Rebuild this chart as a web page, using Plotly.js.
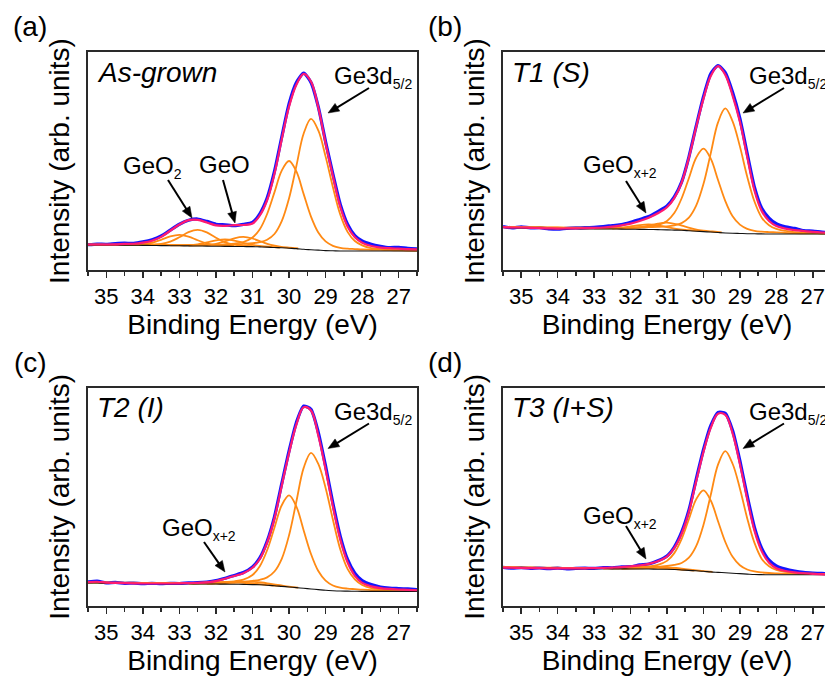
<!DOCTYPE html>
<html>
<head>
<meta charset="utf-8">
<script src="https://cdn.plot.ly/plotly-3.0.1.min.js"></script>
<style>
html,body{margin:0;padding:0;background:#fff;overflow:hidden;width:825px;height:681px;}
#chart{width:833px;height:681px;}
</style>
</head>
<body>
<div id="chart"></div>
<script>
// Binding energy grid (eV)
const energy = [35.5, 35.25, 35.0, 34.75, 34.5, 34.25, 34.0, 33.75, 33.5, 33.25, 33.0, 32.75, 32.5, 32.25, 32.0, 31.75, 31.5, 31.25, 31.0, 30.8, 30.6, 30.4, 30.2, 30.0, 29.8, 29.6, 29.4, 29.2, 29.0, 28.8, 28.6, 28.4, 28.2, 28.0, 27.75, 27.5, 27.25, 27.0, 26.75, 26.5];
const tickValues = [35, 34, 33, 32, 31, 30, 29, 28, 27];
const tickLabels = ["35", "34", "33", "32", "31", "30", "29", "28", "27"];

// (a) As-grown
const aRaw = [11.6, 11.9, 11.8, 12.1, 12.3, 12.2, 12.9, 13.9, 15.6, 18.3, 21.0, 22.8, 23.4, 22.3, 21.0, 20.7, 20.3, 20.9, 21.8, 25.8, 33.0, 45.2, 61.0, 76.3, 86.0, 90.3, 86.0, 74.8, 58.8, 44.0, 30.2, 21.0, 15.8, 13.3, 11.8, 10.9, 10.3, 10.4, 9.9, 9.7];
const aFit = [11.7, 11.7, 11.7, 11.75, 11.95, 12.05, 12.55, 13.45, 15.2, 18.0, 20.85, 22.9, 23.0, 21.8, 20.45, 20.25, 20.55, 20.65, 21.3, 25.0, 32.0, 44.0, 60.0, 75.0, 85.0, 90.0, 86.5, 74.5, 58.0, 43.0, 29.0, 20.0, 15.0, 12.5, 11.0, 10.3, 10.0, 9.8, 9.6, 9.5];
const aBg = [11.5, 11.5, 11.45, 11.45, 11.4, 11.35, 11.3, 11.25, 11.2, 11.15, 11.1, 11.05, 11.0, 10.95, 10.9, 10.85, 10.8, 10.75, 10.7, 10.6, 10.5, 10.3, 10.2, 10.0, 9.8, 9.5, 9.3, 9.1, 8.9, 8.8, 8.7, 8.7, 8.7, 8.7, 8.7, 8.7, 8.7, 8.7, 8.7, 8.7];
const aGe52 = [11.6, 11.6, 11.6, 11.65, 11.6, 11.6, 11.55, 11.55, 11.5, 11.5, 11.45, 11.45, 11.45, 11.5, 11.5, 11.6, 11.8, 12.0, 12.3, 12.8, 13.9, 16.5, 22.4, 32.9, 47.7, 62.6, 69.3, 64.0, 52.0, 38.0, 25.5, 17.5, 13.3, 11.3, 10.0, 9.6, 9.3, 9.1, 9.0, 8.9];
const aGe32 = [11.6, 11.6, 11.55, 11.55, 11.55, 11.5, 11.5, 11.45, 11.45, 11.45, 11.4, 11.45, 11.45, 11.5, 11.6, 11.8, 12.1, 12.85, 14.9, 18.7, 25.7, 35.6, 45.6, 50.0, 45.2, 34.8, 24.5, 17.2, 13.1, 11.1, 10.2, 9.8, 9.6, 9.4, 9.3, 9.2, 9.1, 9.0, 8.95, 8.9];
const aOxAEnergy = [34.5, 34.25, 34.0, 33.75, 33.5, 33.25, 33.0, 32.75, 32.5, 32.25, 32.0, 31.75, 31.5];
const aOxA = [11.6, 11.65, 11.85, 12.5, 13.85, 15.4, 16.1, 15.3, 13.65, 12.2, 11.45, 11.15, 11.0];
const aOxBEnergy = [34.0, 33.75, 33.5, 33.25, 33.0, 32.75, 32.5, 32.25, 32.0, 31.75, 31.5, 31.25, 31.0];
const aOxB = [11.55, 11.7, 12.0, 13.0, 15.0, 17.35, 18.4, 17.25, 14.8, 12.7, 11.6, 11.2, 10.95];
const aOxDEnergy = [33.25, 33.0, 32.75, 32.5, 32.25, 32.0, 31.75, 31.5, 31.25, 31.0, 30.75, 30.5, 30.25];
const aOxD = [11.25, 11.3, 11.4, 11.8, 12.65, 13.6, 14.05, 13.5, 12.45, 11.5, 10.95, 10.6, 10.3];
const aOxCEnergy = [32.75, 32.5, 32.25, 32.0, 31.75, 31.5, 31.25, 31.0, 30.75, 30.5, 30.25, 30.0, 29.75];
const aOxC = [11.2, 11.25, 11.45, 12.0, 13.2, 14.55, 15.15, 14.45, 12.95, 11.5, 10.7, 10.25, 9.9];

// (b) T1 (S)
const bRaw = [19.9, 19.3, 19.8, 19.3, 19.4, 18.9, 18.7, 19.1, 19.3, 19.4, 19.6, 19.9, 20.4, 20.8, 21.9, 23.2, 24.5, 26.8, 29.4, 33.5, 40.3, 51.8, 66.0, 79.5, 90.0, 93.8, 90.5, 81.5, 69.5, 53.5, 38.0, 28.3, 23.8, 21.2, 19.8, 19.1, 18.1, 17.9, 17.4, 17.1];
const bFit = [19.7, 19.5, 19.5, 19.35, 19.2, 19.1, 19.0, 19.05, 19.1, 19.2, 19.3, 19.5, 19.9, 20.5, 21.3, 22.5, 24.0, 26.0, 28.8, 33.0, 40.0, 51.5, 65.5, 78.5, 89.0, 93.5, 89.5, 80.0, 68.0, 52.0, 36.5, 27.0, 22.5, 20.2, 19.0, 18.3, 17.9, 17.5, 17.2, 17.0];
const bBg = [19.5, 19.4, 19.3, 19.2, 19.1, 19.0, 18.95, 18.9, 18.9, 18.85, 18.85, 18.8, 18.8, 18.75, 18.7, 18.65, 18.6, 18.5, 18.4, 18.3, 18.2, 18.0, 17.8, 17.6, 17.4, 17.2, 17.0, 16.85, 16.75, 16.65, 16.6, 16.55, 16.5, 16.5, 16.5, 16.5, 16.5, 16.5, 16.5, 16.5];
const bGe52 = [19.8, 19.75, 19.7, 19.65, 19.6, 19.55, 19.5, 19.45, 19.45, 19.4, 19.35, 19.35, 19.35, 19.35, 19.4, 19.5, 19.65, 19.75, 20.0, 20.5, 21.5, 24.0, 29.5, 39.4, 53.5, 67.7, 74.1, 68.2, 56.7, 42.9, 31.4, 24.0, 20.55, 18.85, 17.9, 17.4, 17.1, 16.95, 16.85, 16.8];
const bGe32 = [19.65, 19.6, 19.55, 19.5, 19.5, 19.45, 19.4, 19.35, 19.35, 19.3, 19.3, 19.3, 19.3, 19.4, 19.5, 19.65, 19.9, 20.6, 22.5, 26.1, 32.8, 42.1, 51.5, 55.7, 51.1, 41.3, 31.6, 24.6, 20.8, 18.9, 18.0, 17.6, 17.4, 17.25, 17.05, 16.9, 16.85, 16.8, 16.75, 16.7];
const bOxCEnergy = [32.5, 32.25, 32.0, 31.75, 31.5, 31.25, 31.0, 30.75, 30.5, 30.25, 30.0, 29.75, 29.5];
const bOxC = [19.0, 19.05, 19.15, 19.55, 20.4, 21.3, 21.7, 21.05, 19.9, 18.8, 18.05, 17.65, 17.3];
const bOxDEnergy = [33.0, 32.75, 32.5, 32.25, 32.0, 31.75, 31.5, 31.25, 31.0, 30.75, 30.5, 30.25, 30.0];
const bOxD = [19.1, 19.1, 19.15, 19.4, 19.95, 20.6, 20.9, 20.45, 19.65, 18.9, 18.45, 18.15, 17.8];

// (c) T2 (I)
const cRaw = [11.0, 11.4, 10.6, 10.8, 10.4, 10.5, 10.2, 10.4, 10.2, 10.4, 10.3, 10.6, 10.7, 11.0, 11.6, 12.7, 14.0, 15.3, 17.9, 22.0, 29.6, 40.8, 56.0, 71.0, 84.0, 91.5, 90.0, 79.5, 64.0, 47.0, 32.0, 21.3, 15.0, 11.6, 9.8, 8.7, 8.2, 8.0, 7.8, 7.5];
const cFit = [10.9, 11.1, 10.7, 10.6, 10.5, 10.4, 10.3, 10.3, 10.3, 10.3, 10.4, 10.5, 10.6, 10.85, 11.4, 12.5, 13.7, 15.0, 17.5, 21.5, 29.0, 40.0, 55.0, 70.0, 83.0, 91.0, 89.5, 78.0, 62.5, 45.5, 30.5, 20.0, 13.8, 10.6, 9.0, 8.2, 7.8, 7.55, 7.4, 7.2];
const cBg = [10.5, 10.5, 10.45, 10.4, 10.4, 10.35, 10.3, 10.3, 10.25, 10.2, 10.2, 10.15, 10.1, 10.1, 10.05, 10.0, 9.95, 9.9, 9.8, 9.7, 9.5, 9.3, 9.0, 8.7, 8.4, 8.1, 7.8, 7.5, 7.2, 7.0, 6.85, 6.8, 6.75, 6.7, 6.7, 6.7, 6.7, 6.7, 6.7, 6.7];
const cGe52 = [10.8, 10.8, 10.75, 10.7, 10.7, 10.65, 10.6, 10.6, 10.6, 10.55, 10.6, 10.6, 10.6, 10.65, 10.75, 10.8, 11.0, 11.15, 11.5, 12.0, 13.1, 15.8, 21.6, 32.4, 47.8, 63.2, 70.1, 65.0, 54.0, 39.5, 26.0, 17.0, 12.2, 9.6, 8.2, 7.7, 7.4, 7.2, 7.1, 7.0];
const cGe32 = [10.7, 10.7, 10.65, 10.6, 10.6, 10.55, 10.5, 10.5, 10.5, 10.5, 10.55, 10.55, 10.55, 10.7, 10.8, 11.0, 11.3, 12.1, 14.2, 18.2, 25.5, 35.8, 46.1, 50.6, 45.5, 34.6, 23.8, 16.0, 11.6, 9.4, 8.4, 7.95, 7.7, 7.45, 7.3, 7.15, 7.1, 7.05, 7.0, 6.95];
const cOxCEnergy = [32.25, 32.0, 31.75, 31.5, 31.25, 31.0, 30.75, 30.5, 30.25, 30.0, 29.75];
const cOxC = [10.2, 10.2, 10.35, 10.65, 11.0, 11.1, 10.75, 10.1, 9.5, 8.85, 8.4];
const cOxDEnergy = [32.75, 32.5, 32.25, 32.0, 31.75, 31.5, 31.25, 31.0, 30.75, 30.5, 30.25];
const cOxD = [10.2, 10.2, 10.3, 10.5, 10.75, 10.85, 10.65, 10.25, 9.9, 9.5, 9.2];

// (d) T3 (I+S)
const dRaw = [17.7, 17.3, 17.6, 17.2, 17.4, 17.1, 17.3, 17.0, 17.2, 17.3, 17.2, 17.6, 17.5, 17.9, 18.0, 18.8, 19.2, 20.7, 22.9, 27.0, 33.8, 43.8, 58.0, 71.5, 82.5, 88.6, 88.2, 80.3, 66.5, 50.5, 36.0, 26.4, 21.0, 18.4, 16.9, 16.0, 15.4, 15.1, 14.9, 14.7];
const dFit = [17.6, 17.5, 17.4, 17.35, 17.3, 17.25, 17.2, 17.2, 17.2, 17.25, 17.35, 17.45, 17.6, 17.8, 18.1, 18.6, 19.3, 20.5, 22.6, 26.5, 33.0, 43.0, 57.0, 70.5, 81.5, 88.0, 87.5, 79.0, 65.0, 49.0, 34.5, 25.0, 19.8, 17.3, 16.0, 15.4, 15.0, 14.7, 14.5, 14.4];
const dBg = [17.6, 17.5, 17.4, 17.35, 17.3, 17.25, 17.2, 17.15, 17.1, 17.1, 17.05, 17.05, 17.0, 17.0, 16.95, 16.95, 16.9, 16.85, 16.8, 16.7, 16.5, 16.3, 16.1, 15.9, 15.6, 15.4, 15.2, 15.0, 14.8, 14.6, 14.4, 14.35, 14.3, 14.3, 14.3, 14.3, 14.3, 14.3, 14.3, 14.3];
const dGe52 = [17.9, 17.8, 17.7, 17.65, 17.6, 17.55, 17.5, 17.45, 17.4, 17.4, 17.4, 17.4, 17.45, 17.5, 17.55, 17.65, 17.85, 17.95, 18.3, 18.8, 19.7, 22.1, 27.4, 37.1, 50.8, 64.7, 70.9, 65.1, 53.8, 40.2, 28.9, 21.55, 18.2, 16.5, 15.6, 15.2, 14.9, 14.75, 14.65, 14.6];
const dGe32 = [17.75, 17.65, 17.55, 17.5, 17.45, 17.4, 17.35, 17.35, 17.3, 17.35, 17.35, 17.4, 17.45, 17.5, 17.6, 17.85, 18.1, 18.8, 20.65, 24.2, 30.6, 39.7, 48.8, 52.9, 48.3, 38.8, 29.3, 22.5, 18.65, 16.7, 15.8, 15.35, 15.1, 14.95, 14.8, 14.7, 14.65, 14.6, 14.55, 14.5];
const dOxCEnergy = [32.25, 32.0, 31.75, 31.5, 31.25, 31.0, 30.75, 30.5, 30.25, 30.0, 29.75];
const dOxC = [17.05, 17.1, 17.2, 17.4, 17.6, 17.7, 17.4, 16.9, 16.45, 16.0, 15.6];
const dOxDEnergy = [32.75, 32.5, 32.25, 32.0, 31.75, 31.5, 31.25, 31.0, 30.75, 30.5, 30.25];
const dOxD = [17.1, 17.1, 17.2, 17.3, 17.55, 17.6, 17.45, 17.15, 16.85, 16.5, 16.25];

const sampleNames = ["As-grown", "T1 (S)", "T2 (I)", "T3 (I+S)"];
const panelLetters = ["(a)", "(b)", "(c)", "(d)"];

const W = 833, H = 681;
const FONT = 'Arial, "Liberation Sans", sans-serif';
const BLUE = '#1414ff', PINK = '#ff1a70', ORANGE = '#ff8a14';

const panels = [
  {raw: aRaw, fit: aFit, bg: aBg, comps: [[energy, aGe52], [energy, aGe32], [aOxAEnergy, aOxA], [aOxBEnergy, aOxB], [aOxDEnergy, aOxD], [aOxCEnergy, aOxC]]},
  {raw: bRaw, fit: bFit, bg: bBg, comps: [[energy, bGe52], [energy, bGe32], [bOxCEnergy, bOxC], [bOxDEnergy, bOxD]]},
  {raw: cRaw, fit: cFit, bg: cBg, comps: [[energy, cGe52], [energy, cGe32], [cOxCEnergy, cOxC], [cOxDEnergy, cOxD]]},
  {raw: dRaw, fit: dFit, bg: dBg, comps: [[energy, dGe52], [energy, dGe32], [dOxCEnergy, dOxC], [dOxDEnergy, dOxD]]}
];

const traces = [];
panels.forEach((p, i) => {
  const xa = i === 0 ? 'x' : 'x' + (i + 1);
  const ya = i === 0 ? 'y' : 'y' + (i + 1);
  traces.push({x: energy, y: p.raw, xaxis: xa, yaxis: ya, mode: 'lines', line: {color: BLUE, width: 3.2, shape: 'spline', smoothing: 0.6}, hoverinfo: 'skip'});
  p.comps.forEach(c => {
    traces.push({x: c[0], y: c[1], xaxis: xa, yaxis: ya, mode: 'lines', line: {color: ORANGE, width: 1.8, shape: 'spline'}, hoverinfo: 'skip'});
  });
  traces.push({x: energy, y: p.bg, xaxis: xa, yaxis: ya, mode: 'lines', line: {color: '#111', width: 1.1, shape: 'spline'}, hoverinfo: 'skip'});
  traces.push({x: energy, y: p.fit, xaxis: xa, yaxis: ya, mode: 'lines', line: {color: PINK, width: 2.2, shape: 'spline'}, hoverinfo: 'skip'});
});

// panel frames in pixels
const frames = [
  {l: 88, r: 417, t: 52, b: 270},
  {l: 503, r: 831, t: 52, b: 270},
  {l: 88, r: 417, t: 387.5, b: 606},
  {l: 503, r: 831, t: 387.5, b: 606}
];

function xAxis(f, yname) {
  return {
    domain: [f.l / W, f.r / W], anchor: yname, range: [35.5, 26.5], automargin: false,
    showline: true, mirror: true, linecolor: '#2a2a2a', linewidth: 1.7,
    showgrid: false, zeroline: false,
    tickmode: 'array', tickvals: tickValues, ticktext: tickLabels,
    ticks: 'outside', ticklen: 6, tickwidth: 1.5, tickcolor: '#2a2a2a',
    minor: {dtick: 0.5, tick0: 0, ticks: 'outside', ticklen: 4, tickwidth: 1.5, tickcolor: '#2a2a2a'},
    tickfont: {family: FONT, size: 22, color: '#000'},
    title: {text: 'Binding Energy (eV)', font: {family: FONT, size: 28, color: '#000'}, standoff: 3}
  };
}
function yAxis(f, xname) {
  return {
    domain: [(H - f.b) / H, (H - f.t) / H], anchor: xname, range: [0, 100], automargin: false,
    showline: true, mirror: true, linecolor: '#2a2a2a', linewidth: 1.7,
    showgrid: false, zeroline: false, showticklabels: false, ticks: '',
    title: {text: 'Intensity (arb. units)', font: {family: FONT, size: 28, color: '#000'}, standoff: 8}
  };
}

const px = (x) => x / W, py = (y) => 1 - y / H;
const annotations = [];
frames.forEach((f, i) => {
  annotations.push({xref: 'paper', yref: 'paper', x: px(f.l - 58), y: py(f.t - 25), text: panelLetters[i], showarrow: false, xanchor: 'center', yanchor: 'middle', font: {family: FONT, size: 28, color: '#000'}});
  annotations.push({xref: 'paper', yref: 'paper', x: px(f.l + 7), y: py(f.t + 20), text: '<i>' + sampleNames[i] + '</i>', showarrow: false, xanchor: 'left', yanchor: 'middle', font: {family: FONT, size: 28, color: '#000'}});
  annotations.push({xref: 'paper', yref: 'paper', x: px(f.l + 244), y: py(f.t + 25), text: 'Ge3d<sub><span style="font-size:14px">5/2</span></sub>', showarrow: false, xanchor: 'left', yanchor: 'middle', font: {family: FONT, size: 24, color: '#000'}});
});
annotations.push({xref: 'paper', yref: 'paper', x: px(121), y: py(167), text: 'GeO<sub><span style="font-size:14px">2</span></sub>', showarrow: false, xanchor: 'left', yanchor: 'middle', font: {family: FONT, size: 24, color: '#000'}});
annotations.push({xref: 'paper', yref: 'paper', x: px(197), y: py(164), text: 'GeO', showarrow: false, xanchor: 'left', yanchor: 'middle', font: {family: FONT, size: 24, color: '#000'}});
const oxLabelPos = [[581, 166], [160, 529], [581, 517]];
oxLabelPos.forEach(o => {
  annotations.push({xref: 'paper', yref: 'paper', x: px(o[0]), y: py(o[1]), text: 'GeO<sub><span style="font-size:14px">x+2</span></sub>', showarrow: false, xanchor: 'left', yanchor: 'middle', font: {family: FONT, size: 24, color: '#000'}});
});

// label arrows (tail -> head, page pixels), drawn as shapes
const arrowGeom = [
  [369, 88, 328, 113], [784, 88, 743, 113], [369, 423.5, 328, 448.5], [784, 423.5, 743, 448.5],
  [168, 180, 192, 218], [223, 180, 235, 223],
  [626, 181, 646, 213], [204, 542, 225, 572], [626, 526, 646, 559]
];
const shapes = [];
arrowGeom.forEach(a => {
  const [tx, ty, hx, hy] = a;
  const dx = hx - tx, dy = hy - ty, len = Math.hypot(dx, dy);
  const ux = dx / len, uy = dy / len, L = 11, w = 4.5;
  const bx = hx - ux * L, by = hy - uy * L;
  const nx = -uy, ny = ux;
  shapes.push({type: 'line', xref: 'paper', yref: 'paper', x0: px(tx), y0: py(ty), x1: px(bx + ux), y1: py(by + uy), line: {color: '#000', width: 2}});
  shapes.push({type: 'path', xref: 'paper', yref: 'paper',
    path: `M ${px(hx)} ${py(hy)} L ${px(bx + nx * w)} ${py(by + ny * w)} L ${px(bx - nx * w)} ${py(by - ny * w)} Z`,
    fillcolor: '#000', line: {color: '#000', width: 0.5}});
});

const layout = {
  width: W, height: H, margin: {l: 0, r: 0, t: 0, b: 0},
  paper_bgcolor: '#fff', plot_bgcolor: '#fff', showlegend: false,
  font: {family: FONT, color: '#000'},
  xaxis: xAxis(frames[0], 'y'), yaxis: yAxis(frames[0], 'x'),
  xaxis2: xAxis(frames[1], 'y2'), yaxis2: yAxis(frames[1], 'x2'),
  xaxis3: xAxis(frames[2], 'y3'), yaxis3: yAxis(frames[2], 'x3'),
  xaxis4: xAxis(frames[3], 'y4'), yaxis4: yAxis(frames[3], 'x4'),
  annotations: annotations, shapes: shapes
};

Plotly.newPlot('chart', traces, layout, {staticPlot: true, displayModeBar: false});
</script>
</body>
</html>
